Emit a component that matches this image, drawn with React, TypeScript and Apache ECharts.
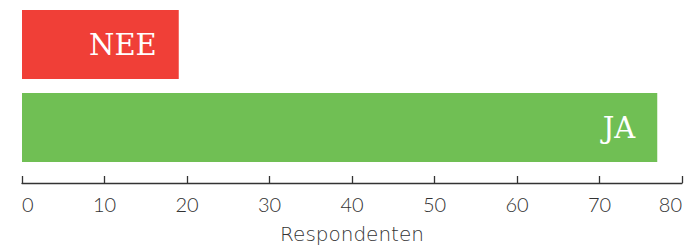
import React, { useEffect, useRef } from "react";
import * as echarts from "echarts";

const categories = ["JA", "NEE"];
const values = [77, 19];
const barColors = ["#70BF54", "#F03F37"];
const xTicks = { min: 0, max: 80, interval: 10 };
const axisName = "Respondenten";

export default function App() {
  const ref = useRef<HTMLDivElement>(null);
  useEffect(() => {
    const chart = echarts.init(ref.current!, null, { renderer: "svg" });
    chart.setOption({
      animation: false,
      grid: { left: 22, right: 7, top: 3, height: 166, outerBoundsMode: "none", containLabel: false },
      xAxis: {
        type: "value",
        min: xTicks.min,
        max: xTicks.max,
        interval: xTicks.interval,
        offset: 14,
        name: axisName,
        nameLocation: "middle",
        nameGap: 41,
        nameTextStyle: { fontFamily: "DejaVu Sans", fontWeight: 200, fontSize: 20, color: "#333" },
        axisLine: { show: true, lineStyle: { color: "#333", width: 1.3 } },
        axisTick: { show: true, inside: true, length: 7, lineStyle: { color: "#333", width: 1.3 } },
        splitLine: { show: false },
        axisLabel: {
          fontFamily: "Lato",
          fontWeight: 300,
          fontSize: 20,
          color: "#333",
          margin: 11,
          alignMinLabel: "left",
          alignMaxLabel: "right",
        },
      },
      yAxis: {
        type: "category",
        data: categories,
        show: false,
      },
      series: [
        {
          type: "bar",
          data: values.map((v, i) => ({ value: v, itemStyle: { color: barColors[i] } })),
          barCategoryGap: "17%",
          label: {
            show: true,
            position: "insideRight",
            distance: 22,
            formatter: (p: any) => categories[p.dataIndex],
            fontFamily: "DejaVu Serif",
            fontSize: 29,
            color: "#fff",
          },
        },
      ],
    });
    return () => chart.dispose();
  }, []);
  return <div ref={ref} style={{ width: 689, height: 247, position: "absolute", left: 0, top: 0 }} />;
}
